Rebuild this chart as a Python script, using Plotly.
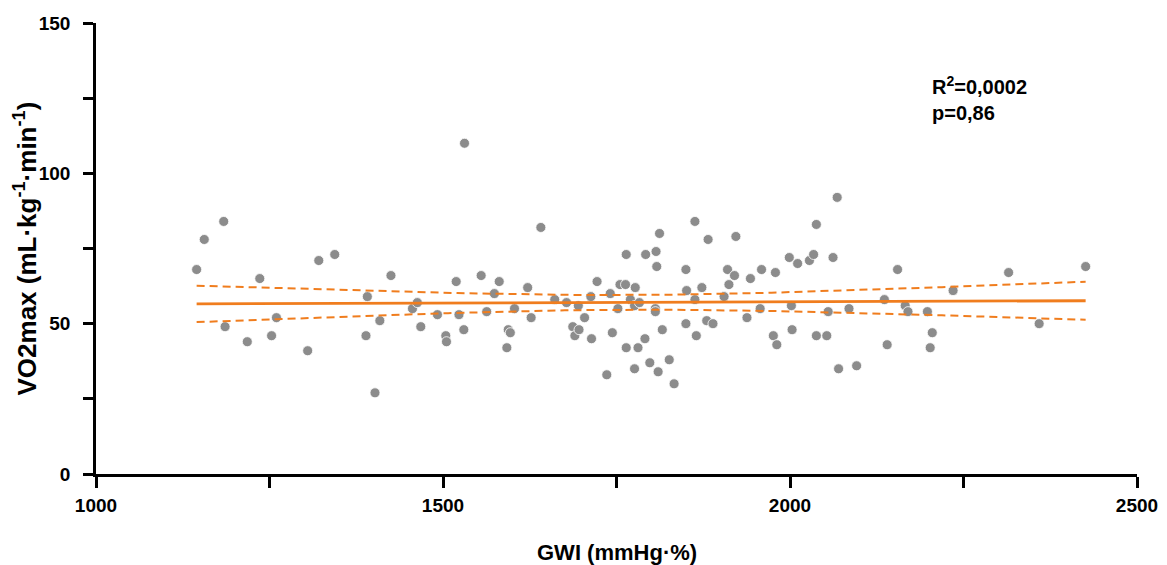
import numpy as np
import plotly.graph_objects as go

gwi = [1145, 1156, 1184, 1186, 1236, 1218, 1253, 1260, 1305, 1321, 1344, 1391, 1389, 1402, 1409,
       1425, 1456, 1463, 1468, 1492, 1504, 1505, 1531, 1519, 1523, 1530, 1555, 1563, 1574, 1581,
       1592, 1594, 1597, 1603, 1622, 1627, 1641, 1661, 1678, 1687, 1690, 1696, 1695, 1704, 1713,
       1714, 1722, 1736, 1741, 1744, 1752, 1755, 1763, 1764, 1764, 1770, 1777, 1776, 1776, 1783,
       1781, 1791, 1792, 1798, 1806, 1806, 1807, 1808, 1812, 1810, 1816, 1826, 1833, 1850, 1851,
       1850, 1863, 1863, 1865, 1873, 1880, 1889, 1882, 1905, 1910, 1912, 1920, 1922, 1938, 1943,
       1957, 1959, 1976, 1981, 1979, 1999, 2002, 2003, 2011, 2028, 2034, 2038, 2038, 2053, 2055,
       2062, 2068, 2070, 2085, 2096, 2136, 2140, 2155, 2166, 2170, 2198, 2202, 2205, 2235, 2315,
       2359, 2426]
vo2max = [68, 78, 84, 49, 65, 44, 46, 52, 41, 71, 73, 59, 46, 27, 51,
          66, 55, 57, 49, 53, 46, 44, 110, 64, 53, 48, 66, 54, 60, 64,
          42, 48, 47, 55, 62, 52, 82, 58, 57, 49, 46, 48, 56, 52, 59,
          45, 64, 33, 60, 47, 55, 63, 63, 73, 42, 58, 62, 35, 56, 57,
          42, 45, 73, 37, 55, 54, 74, 69, 80, 34, 48, 38, 30, 68, 61,
          50, 58, 84, 46, 62, 51, 50, 78, 59, 68, 63, 66, 79, 52, 65,
          55, 68, 46, 43, 67, 72, 56, 48, 70, 71, 73, 83, 46, 46, 54,
          72, 92, 35, 55, 36, 58, 43, 68, 56, 54, 54, 42, 47, 61, 67,
          50, 69]
x_ticks = [1000, 1500, 2000, 2500]
x_minor = [1250, 1750, 2250]
y_ticks = [0, 50, 100, 150]
y_minor = [25, 75, 125]
annotation_text = "R<sup>2</sup>=0,0002<br>p=0,86"
x_title = "GWI (mmHg·%)"
y_title = "VO2max (mL·kg<sup>-1</sup>·min<sup>-1</sup>)"

x = np.array(gwi, dtype=float)
y = np.array(vo2max, dtype=float)
n = len(x)
slope, intercept = np.polyfit(x, y, 1)
xs = np.linspace(x.min(), x.max(), 100)
ys = intercept + slope * xs
resid = y - (intercept + slope * x)
s = np.sqrt(np.sum(resid ** 2) / (n - 2))
t = 1.979
se = s * np.sqrt(1.0 / n + (xs - x.mean()) ** 2 / np.sum((x - x.mean()) ** 2))
upper = ys + t * se
lower = ys - t * se

orange = "#F07D1E"
ff = "Liberation Sans"
fig = go.Figure()
fig.add_trace(go.Scatter(x=x, y=y, mode="markers",
                         marker=dict(size=10, color="#8C8C8C", line=dict(color="white", width=0.8)),
                         showlegend=False))
fig.add_trace(go.Scatter(x=xs, y=upper, mode="lines", line=dict(color=orange, width=2, dash="8px,5px"), showlegend=False))
fig.add_trace(go.Scatter(x=xs, y=lower, mode="lines", line=dict(color=orange, width=2, dash="8px,5px"), showlegend=False))
fig.add_trace(go.Scatter(x=xs, y=ys, mode="lines", line=dict(color=orange, width=2.8), showlegend=False))

fig.update_layout(
    width=1167, height=565, autosize=False,
    margin=dict(l=96, r=30, t=23, b=91),
    plot_bgcolor="white", paper_bgcolor="white",
    font=dict(family=ff, color="black"),
    annotations=[
        dict(x=2202, y=134, xref="x", yref="y", text="<b>" + annotation_text + "</b>",
             showarrow=False, xanchor="left", yanchor="top", align="left",
             font=dict(size=20, family=ff, color="black")),
        dict(x=0.5, y=0, xref="paper", yref="paper", yshift=-78, text="<b>" + x_title + "</b>",
             showarrow=False, xanchor="center", yanchor="middle",
             font=dict(size=22, family=ff, color="black")),
        dict(x=0, y=0.5, xref="paper", yref="paper", xshift=-70, text="<b>" + y_title + "</b>",
             showarrow=False, xanchor="center", yanchor="middle", textangle=-90,
             font=dict(size=26, family=ff, color="black")),
    ],
)
fig.update_xaxes(range=[1000, 2500], automargin=False, showgrid=False, zeroline=False, showline=True,
                 linecolor="black", linewidth=2.5,
                 ticks="outside", ticklen=11, tickwidth=2.5, tickcolor="black", ticklabelstandoff=1,
                 tickvals=x_ticks, ticktext=["<b>%d</b>" % v for v in x_ticks],
                 tickfont=dict(size=19, family=ff),
                 minor=dict(tickvals=x_minor, ticks="outside", ticklen=11, tickwidth=2.5, tickcolor="black"))
fig.update_yaxes(range=[0, 150], automargin=False, showgrid=False, zeroline=False, showline=True,
                 linecolor="black", linewidth=2.5,
                 ticks="outside", ticklen=10, tickwidth=2.5, tickcolor="black", ticklabelstandoff=9,
                 tickvals=y_ticks, ticktext=["<b>%d</b>" % v for v in y_ticks],
                 tickfont=dict(size=19, family=ff),
                 minor=dict(tickvals=y_minor, ticks="outside", ticklen=10, tickwidth=2.5, tickcolor="black"))
fig.write_html("out.html", config={"displayModeBar": False},
               post_script="document.body.style.margin='0';document.body.style.overflow='hidden';")
